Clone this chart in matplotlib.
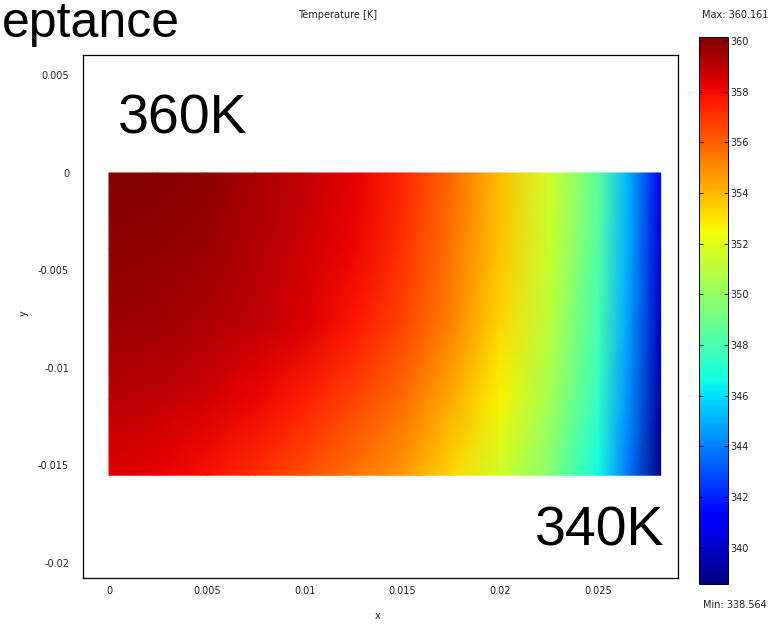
import numpy as np
import matplotlib.pyplot as plt

# temperature field (K), rows top -> bottom
x_nodes = [0.0, 0.0025, 0.005, 0.0075, 0.01, 0.0125, 0.015, 0.0175, 0.02, 0.0225, 0.025, 0.0265, 0.0282]
y_nodes = [0.0, -0.0039, -0.0078, -0.0116, -0.0155]
temp_top = [360.1, 360.05, 359.9, 359.4, 358.9, 358.3, 357.3, 355.8, 353.9, 351.6, 348.6, 345.2, 340.6]
temp_upper = [359.9, 359.8, 359.6, 359.2, 358.7, 358.1, 357.1, 355.6, 353.7, 351.4, 348.3, 345.0, 340.3]
temp_mid = [359.6, 359.5, 359.3, 358.9, 358.4, 357.7, 356.7, 355.2, 353.3, 351.0, 348.0, 344.8, 339.9]
temp_lower = [359.1, 358.9, 358.6, 358.1, 357.5, 356.7, 355.7, 354.3, 352.6, 350.4, 347.5, 344.4, 339.3]
temp_bottom = [358.4, 358.2, 357.8, 357.2, 356.4, 355.6, 354.7, 353.3, 351.5, 349.6, 346.6, 343.8, 338.6]

t_min, t_max = 338.564, 360.161
x_ticks = [0, 0.005, 0.01, 0.015, 0.02, 0.025]
x_labels = ["0", "0.005", "0.01", "0.015", "0.02", "0.025"]
y_ticks = [0.005, 0, -0.005, -0.01, -0.015, -0.02]
y_labels = ["0.005", "0", "-0.005", "-0.01", "-0.015", "-0.02"]
cb_ticks = [340, 342, 344, 346, 348, 350, 352, 354, 356, 358, 360]

W, H = 778, 624
fig = plt.figure(figsize=(W / 100, H / 100), dpi=100)

# main axes (frame measured in pixels)
ax = fig.add_axes([83 / W, 1 - 578 / H, (677.5 - 83) / W, (578 - 55) / H])
T = np.array([temp_top, temp_upper, temp_mid, temp_lower, temp_bottom])
X, Y = np.meshgrid(x_nodes, y_nodes)
mesh = ax.pcolormesh(X, Y, T, cmap="jet", vmin=t_min, vmax=t_max, shading="gouraud")
ax.set_xlim(-0.00133, 0.02906)
ax.set_ylim(-0.02077, 0.00605)
ax.set_xticks(x_ticks)
ax.set_xticklabels(x_labels)
ax.set_yticks(y_ticks)
ax.set_yticklabels(y_labels)
ax.tick_params(length=0, labelsize=7, labelcolor="#222222")
ax.tick_params(axis="x", pad=6)
ax.tick_params(axis="y", pad=10)
for s in ax.spines.values():
    s.set_linewidth(0.9)
ax.set_xlabel("x", fontsize=7, color="#222222")
ax.set_ylabel("y", fontsize=7, color="#222222")
ax.xaxis.set_label_coords((378 - 83) / 594.5, -0.064)
ax.yaxis.set_label_coords(-0.092, (578 - 313) / 523)

fig.text(338 / W, 1 - 15 / H, "Temperature [K]", fontsize=7, ha="center", va="center", color="#222222")

# colorbar
cax = fig.add_axes([699 / W, 1 - 584 / H, 29 / W, 547 / H])
cb = fig.colorbar(mesh, cax=cax, ticks=cb_ticks)
cax.tick_params(labelsize=7, labelcolor="#222222", length=3, width=0.6, direction="in",
                left=True, right=True, pad=2)
cb.outline.set_linewidth(0.7)
fig.text(735 / W, 1 - 15 / H, "Max: 360.161", fontsize=7, ha="center", va="center", color="#222222")
fig.text(735 / W, 1 - 605 / H, "Min: 338.564", fontsize=7, ha="center", va="center", color="#222222")

# big slide annotations
big = dict(family=["Liberation Sans", "DejaVu Sans"], color="black")
fig.text(2 / W, 1 - 37 / H, "eptance", fontsize=36, ha="left", va="baseline", **big)
fig.text(118 / W, 1 - 133 / H, "360K", fontsize=40, ha="left", va="baseline", **big)
fig.text(535 / W, 1 - 546 / H, "340K", fontsize=40, ha="left", va="baseline", **big)

fig.savefig("out.png", dpi=100)
